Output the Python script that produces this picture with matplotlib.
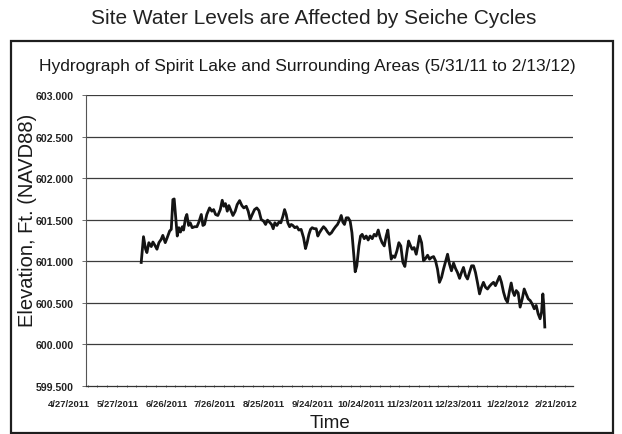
import datetime as dt

import matplotlib
matplotlib.use("Agg")
import matplotlib.pyplot as plt
import matplotlib.dates as mdates
import matplotlib.transforms as mtransforms
from matplotlib.patches import Rectangle

# Days elapsed since the start of the record (5/31/2011) and lake elevation (ft, NAVD88)
record_start = dt.datetime(2011, 5, 31)
days = [
    0.0, 1.4, 2.7, 3.5, 4.7, 6.2, 7.2, 8.4, 9.7, 10.9, 12.3, 13.3, 14.8, 16.0, 17.5,
    18.5, 19.5, 20.3, 21.2, 22.2, 23.2, 24.2, 25.3, 26.1, 27.3, 28.1, 29.2, 30.2,
    31.4, 32.9, 34.3, 35.5, 37.0, 38.0, 39.0, 40.4, 42.1, 43.5, 44.6, 45.8, 47.2,
    48.7, 49.9, 50.9, 51.9, 53.0, 54.0, 55.0, 56.5, 57.9, 59.1, 60.6, 62.0, 63.2,
    64.7, 65.9, 67.1, 68.4, 69.8, 71.2, 72.5, 73.9, 75.4, 76.6, 77.8, 79.0, 80.3,
    81.3, 82.3, 83.6, 84.8, 86.0, 87.3, 88.3, 89.3, 90.3, 91.4, 92.4, 93.4, 94.6,
    95.9, 97.1, 98.5, 100.0, 101.2, 102.2, 103.3, 104.3, 105.3, 106.6, 107.8, 108.8,
    109.8, 111.1, 112.3, 113.5, 114.8, 116.0, 117.2, 118.5, 119.7, 120.9, 122.2,
    123.2, 124.2, 125.2, 126.3, 127.5, 128.7, 129.8, 130.8, 131.8, 132.8, 134.1,
    135.1, 136.1, 137.4, 138.6, 139.8, 141.0, 142.3, 143.5, 144.7, 146.0, 147.2,
    148.4, 149.7, 150.9, 151.9, 153.0, 154.0, 155.0, 156.2, 157.5, 158.7, 159.9,
    161.2, 162.4, 163.6, 164.7, 165.9, 166.9, 168.1, 169.4, 170.4, 171.4, 172.7,
    173.9, 175.1, 176.4, 177.6, 178.8, 180.1, 181.3, 182.5, 183.7, 185.0, 186.2,
    187.4, 188.7, 189.9, 191.1, 192.4, 193.6, 194.8, 196.1, 197.3, 198.5, 199.8,
    201.0, 202.2, 203.5, 204.7, 205.9, 207.1, 208.4, 209.6, 210.8, 212.1, 213.3,
    214.5, 215.8, 217.0, 218.2, 219.5, 220.7, 221.9, 223.2, 224.4, 225.6, 226.9,
    227.9, 228.9, 229.9, 231.0, 232.2, 233.4, 234.7, 235.9, 237.1, 238.4, 239.6,
    240.8, 242.1, 243.3, 244.5, 245.7, 246.6, 247.4, 248.0, 248.6,
]
elevation = [
    600.986, 601.296, 601.145, 601.105, 601.224, 601.177, 601.232, 601.193, 601.145,
    601.224, 601.264, 601.312, 601.224, 601.284, 601.364, 601.384, 601.742, 601.750,
    601.543, 601.304, 601.404, 601.352, 601.416, 601.376, 601.523, 601.563, 601.431,
    601.463, 601.404, 601.416, 601.416, 601.471, 601.563, 601.431, 601.443, 601.563,
    601.642, 601.603, 601.622, 601.563, 601.551, 601.622, 601.734, 601.662, 601.694,
    601.603, 601.670, 601.622, 601.551, 601.603, 601.682, 601.730, 601.670, 601.642,
    601.662, 601.603, 601.503, 601.563, 601.622, 601.642, 601.610, 601.503, 601.483,
    601.443, 601.495, 601.471, 601.443, 601.392, 601.463, 601.431, 601.471, 601.463,
    601.543, 601.622, 601.563, 601.463, 601.416, 601.443, 601.431, 601.404, 601.416,
    601.376, 601.384, 601.284, 601.153, 601.224, 601.324, 601.384, 601.404, 601.392,
    601.392, 601.304, 601.344, 601.384, 601.416, 601.392, 601.352, 601.324, 601.344,
    601.384, 601.416, 601.443, 601.495, 601.551, 601.471, 601.443, 601.523, 601.523,
    601.483, 601.344, 601.105, 600.874, 600.946, 601.185, 601.304, 601.324, 601.272,
    601.304, 601.256, 601.304, 601.272, 601.324, 601.304, 601.376, 601.284, 601.224,
    601.185, 601.304, 601.376, 601.185, 601.026, 601.065, 601.046, 601.125, 601.224,
    601.185, 600.986, 600.938, 601.105, 601.244, 601.185, 601.145, 601.165, 601.085,
    601.185, 601.304, 601.224, 601.006, 601.033, 601.073, 601.026, 601.046, 601.057,
    601.006, 600.906, 600.747, 600.807, 600.906, 600.994, 601.085, 600.966, 600.886,
    600.978, 600.914, 600.866, 600.795, 600.866, 600.926, 600.827, 600.787, 600.866,
    600.946, 600.946, 600.866, 600.747, 600.608, 600.687, 600.747, 600.687, 600.667,
    600.699, 600.727, 600.747, 600.707, 600.767, 600.819, 600.747, 600.628, 600.548,
    600.508, 600.648, 600.739, 600.636, 600.588, 600.648, 600.620, 600.449, 600.548,
    600.667, 600.608, 600.548, 600.528, 600.488, 600.429, 600.469, 600.369, 600.309,
    600.389, 600.608, 600.469, 600.210,
]

y_ticks = [599.5, 600.0, 600.5, 601.0, 601.5, 602.0, 602.5, 603.0]
x_first_tick = dt.datetime(2011, 4, 27)
x_last_tick = dt.datetime(2012, 2, 21)
tick_step_days = 30

title = "Site Water Levels are Affected by Seiche Cycles"
subtitle = "Hydrograph of Spirit Lake and Surrounding Areas (5/31/11 to 2/13/12)"
x_label = "Time"
y_label = "Elevation, Ft. (NAVD88)"

sans = ["Liberation Sans", "DejaVu Sans"]
narrow = ["Liberation Sans Narrow", "Liberation Sans", "DejaVu Sans"]

fig = plt.figure(figsize=(6.22, 4.35), dpi=100)
fig.patch.set_facecolor("white")

# Framed panel around the chart
fig.add_artist(Rectangle((0.0177, 0.0023), 0.9678, 0.901, transform=fig.transFigure,
                         fill=False, edgecolor="#1e1e1e", linewidth=1.6))

fig.text(0.505, 0.958, title, ha="center", va="center", fontsize=15,
         family=sans, color="#222222")
fig.text(0.494, 0.848, subtitle, ha="center", va="center", fontsize=12.5,
         family=sans, color="#1a1a1a")
fig.text(0.530, 0.026, x_label, ha="center", va="center", fontsize=13.5,
         family=sans, color="#1a1a1a")
fig.text(0.044, 0.494, y_label, ha="center", va="center", rotation=90,
         fontsize=14.5, family=sans, color="#1a1a1a")

ax = fig.add_axes([0.1383, 0.1103, 0.7830, 0.6690])

x_start = mdates.date2num(record_start)
xs = [x_start + d for d in days]
ax.plot(xs, elevation, color="#141414", linewidth=2.0, solid_joinstyle="round")

ax.set_xlim(mdates.date2num(x_first_tick), mdates.date2num(x_last_tick))
ax.set_ylim(y_ticks[0], y_ticks[-1])

ax.set_yticks(y_ticks)
ax.set_yticklabels([f"{v:.3f}" for v in y_ticks])
for lab in ax.get_yticklabels():
    lab.set_family(narrow)
    lab.set_fontsize(7.6)
    lab.set_fontweight("bold")
    lab.set_color("#222222")
ax.tick_params(axis="y", which="both", length=3, width=0.6, color="#555555", pad=6)

# Date labels sit a little to the left of their tick positions
x_tick_vals = []
t = x_first_tick
while t <= x_last_tick:
    x_tick_vals.append(t)
    t += dt.timedelta(days=tick_step_days)
ax.set_xticks([mdates.date2num(v) for v in x_tick_vals])
ax.set_xticklabels([])
ax.tick_params(axis="x", which="major", length=0)
label_tf = ax.get_xaxis_transform() + mtransforms.ScaledTranslation(
    -17 / 100, -17 / 100, fig.dpi_scale_trans)
for v in x_tick_vals:
    ax.text(mdates.date2num(v), 0, f"{v.month}/{v.day}/{v.year}",
            transform=label_tf, ha="center", va="center", fontsize=6.8,
            fontweight="bold", family=narrow, color="#222222", clip_on=False)

ax.xaxis.set_minor_locator(mdates.DayLocator(interval=6))
ax.tick_params(axis="x", which="minor", length=2, width=0.6, color="#444444",
               direction="inout")

for v in y_ticks[1:]:
    ax.axhline(v, color="#3c3c3c", linewidth=0.9, zorder=0)

for side in ("top", "right"):
    ax.spines[side].set_visible(False)
ax.spines["left"].set_color("#555555")
ax.spines["left"].set_linewidth(0.8)
ax.spines["bottom"].set_color("#333333")
ax.spines["bottom"].set_linewidth(0.9)

fig.savefig("out.png", dpi=100, facecolor="white")
